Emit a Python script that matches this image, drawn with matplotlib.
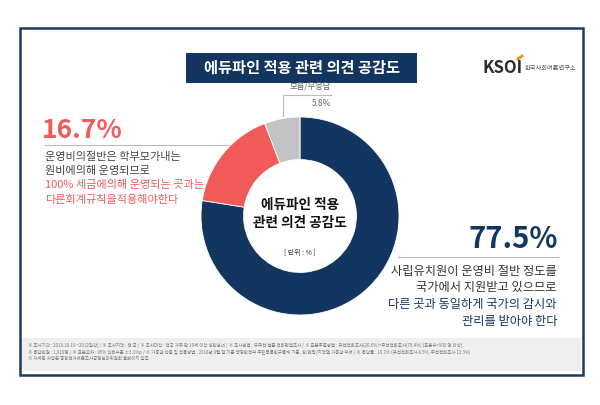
import matplotlib

matplotlib.use("Agg")
import matplotlib.pyplot as plt
from matplotlib.patches import Rectangle

plt.rcParams["font.family"] = ["Noto Sans CJK KR", "DejaVu Sans"]

# data
labels = ["공감", "비공감", "모름/무응답"]
values = [77.5, 16.7, 5.8]
colors = ["#12365F", "#F25A5A", "#C3C3C3"]

TITLE = "에듀파인 적용 관련 의견 공감도"
CENTER_TEXT = "에듀파인 적용\n관련 의견 공감도"
UNIT = "[ 단위 : % ]"
LEFT_LINES = ["운영비의절반은 학부모가내는", "원비에의해 운영되므로",
              "100% 세금에의해 운영되는 곳과는", "다른회계규칙을적용해야한다"]
RIGHT_LINES = ["사립유치원이 운영비 절반 정도를", "국가에서 지원받고 있으므로",
               "다른 곳과 동일하게 국가의 감시와", "관리를 받아야 한다"]
NOTES = [
    "※ 조사기간 : 2018.10.19 ~20 (2일간) / ※ 조사지역 : 전 국 / ※ 조사대상 : 전국 거주 만 19세 이상 성인남녀 / ※ 조사방법 : 유무선 설문 전화면접조사 / ※ 표본추출방법 : 유선전화조사(20.6%)+무선전화조사(79.4%) (표본수=500 명 이상)",
    "※ 응답인원 : 1,010명 / ※ 표본오차 : 95% 신뢰수준 ±3.1%p / ※ 가중값 산출 및 적용방법 : 2018년 9월 말 기준 행정안전부 주민등록인구통계 기준, 성/연령/지역별 가중값 부여 / ※ 응답률 : 10.1% (유선전화조사 8.5%, 무선전화조사 12.3%)",
    "※ 자세한 사항은 중앙선거여론조사공정심의위원회 홈페이지 참조",
]

NAVY = "#12365F"
RED = "#F25A5A"
W, H = 600, 405

fig = plt.figure(figsize=(6, 4.05), dpi=100)
fig.patch.set_facecolor("white")

# canvas in pixel coordinates
bg = fig.add_axes([0, 0, 1, 1])
bg.set_xlim(0, W)
bg.set_ylim(H, 0)
bg.axis("off")

bg.add_patch(Rectangle((20, 28), 563, 347, facecolor="white", edgecolor="#1F3A5F", linewidth=1.8))
bg.add_patch(Rectangle((22, 338), 559, 33, facecolor="#EFEFEF", edgecolor="none"))
bg.add_patch(Rectangle((186, 53), 231, 30, facecolor=NAVY, edgecolor="none"))
bg.text(301.5, 68, TITLE, color="white", fontsize=11, fontweight="bold", ha="center", va="center")

# logo
bg.text(483, 68, "KSOI", color="#2B2B2B", fontsize=12, fontweight="bold", ha="left", va="center")
bg.plot([518, 522], [59, 56], color="#F08A1C", linewidth=2)
bg.text(525, 68, "한국사회여론연구소", color="#555555", fontsize=4.5, ha="left", va="center")

# donut
cx, cy, r = 300, 216, 99
pie_ax = fig.add_axes([(cx - r) / W, (H - cy - r) / H, 2 * r / W, 2 * r / H])
pie_ax.pie(values, colors=colors, startangle=90, counterclock=False,
           wedgeprops=dict(width=0.43, edgecolor="white", linewidth=0.6))
pie_ax.set_xlim(-1, 1)
pie_ax.set_ylim(-1, 1)
pie_ax.set_aspect("equal")
pie_ax.axis("off")

pie_ax.text(0, 0.02, CENTER_TEXT, ha="center", va="center", fontsize=9.8,
            fontweight="bold", color="#111111", linespacing=1.3)
pie_ax.text(0, -0.37, UNIT, ha="center", va="center", fontsize=5, color="#333333")

# left annotation (16.7%)
bg.text(42, 131, f"{values[1]}%", color=RED, fontsize=19, fontweight="bold", ha="left", va="center")
bg.plot([45, 262], [145, 145], color="#BBBBBB", linewidth=0.8)
for i, line in enumerate(LEFT_LINES):
    bg.text(45, 157 + i * 14.2, line, color="#444444" if i < 2 else RED,
            fontsize=8, ha="left", va="center")

# gray annotation
bg.plot([283, 283, 331], [116, 95, 95], color="#BBBBBB", linewidth=0.8)
bg.text(331, 86, labels[2], color="#666666", fontsize=6, ha="right", va="center")
bg.text(331, 104, f"{values[2]}%", color="#666666", fontsize=6, ha="right", va="center")

# right annotation (77.5%)
bg.text(558, 239, f"{values[0]}%", color=NAVY, fontsize=21, fontweight="bold", ha="right", va="center")
bg.plot([398, 558], [257, 257], color="#BBBBBB", linewidth=0.8)
for i, line in enumerate(RIGHT_LINES):
    bg.text(557, 271 + i * 16.7, line, color="#333333" if i < 2 else NAVY,
            fontsize=8.8, ha="right", va="center")

# notes
for i, line in enumerate(NOTES):
    bg.text(28, 345 + i * 6.8, line, color="#777777", fontsize=3.2, ha="left", va="center")

fig.savefig("out.png", dpi=100)
